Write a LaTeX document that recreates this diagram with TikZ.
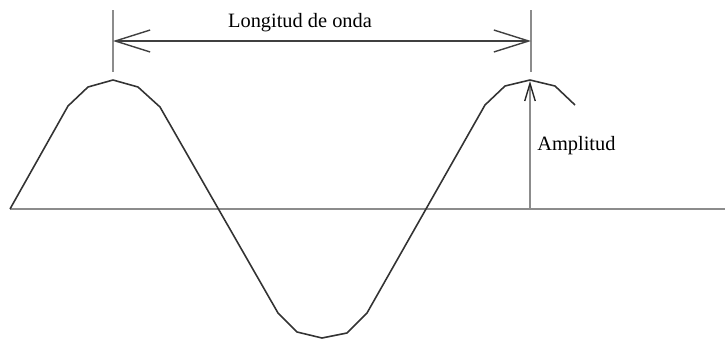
\documentclass[tikz,border=0pt]{standalone}
\usepackage{fontspec}
\setmainfont{Liberation Serif}
\usetikzlibrary{calc,arrows.meta,positioning}

\begin{document}
\begin{tikzpicture}[x=0.02cm,y=-0.02cm,
  wave/.style={line width=0.9pt,black!80,line join=round},
  guide/.style={line width=1.1pt,black!45},
  lbl/.style={font=\fontsize{11.6}{13}\selectfont,inner sep=0pt}]
\useasboundingbox (0,0) rectangle (725,342);
% axis
\coordinate (O) at (10,209);
\coordinate (X) at (725,209);
\draw[guide] (O)--(X);
% sine wave
\draw[wave] (O)--(68,106)--(88,87)--(113,80)--(138,87)--(160,107)
  --(278,313)--(297,332)--(322,338)--(347,333)--(367,313)
  --(485,105)--(505,86)--(530,80)--(555,86)--(575,105);
% wavelength
\coordinate (A) at (113,10);
\coordinate (A1) at (113,72);
\coordinate (B) at (531,10);
\coordinate (B1) at (531,72);
\draw[guide] (A)--(A1);
\draw[guide] (B)--(B1);
\coordinate (L1) at (113,41);
\coordinate (L2) at (531,41);
\draw[line width=0.8pt,black!75,{Straight Barb[length=19.8pt,width=12.5pt]}-{Straight Barb[length=19.8pt,width=12.5pt]}] (L1)--(L2);
\node[lbl] (lambda) at (300,23) {Longitud de onda};
% amplitude
\coordinate (P) at (530,209);
\coordinate (Q) at (530,81);
\draw[guide,-{Straight Barb[length=10pt,width=6pt,black!85,line width=0.8pt]}] (P)--(Q);
\node[lbl,right] (amp) at (537,146) {Amplitud};
\end{tikzpicture}
\end{document}
